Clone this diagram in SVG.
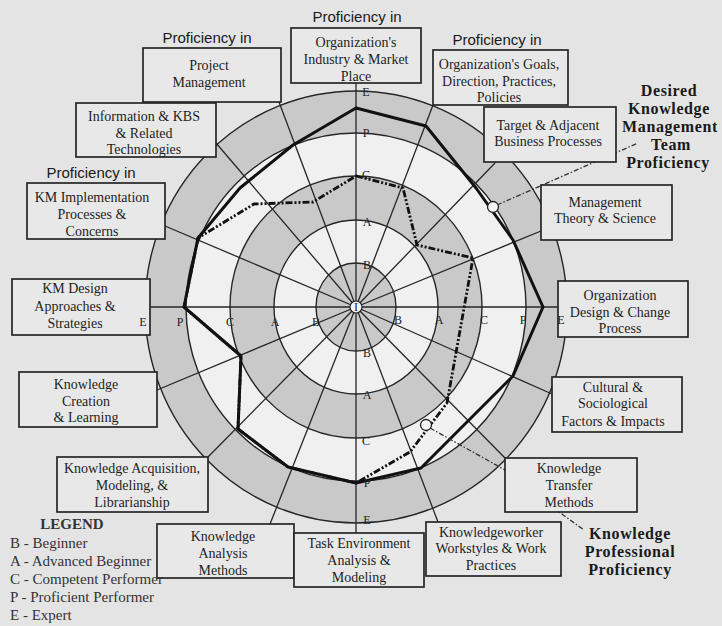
<svg xmlns="http://www.w3.org/2000/svg" width="722" height="626" viewBox="0 0 722 626">
<style>
.bg{fill:#e4e4e4}
.ring{stroke:#262626;stroke-width:1.4}
.g{fill:#c9c9c9}
.w{fill:#f0f0f0}
.spoke{stroke:#262626;stroke-width:1.3;fill:none}
.box{fill:#e8e8e8;stroke:#262626;stroke-width:1.7}
.t{font-family:"Liberation Serif","Times New Roman",serif;font-size:14px;fill:#1e1e1e;text-anchor:middle}
.h{font-family:"Liberation Sans",Arial,sans-serif;font-size:15px;fill:#1a1a1a;text-anchor:middle}
.ax{font-family:"Liberation Serif","Times New Roman",serif;font-size:12px;fill:#222;text-anchor:middle}
.big{font-family:"Liberation Serif","Times New Roman",serif;font-size:16px;letter-spacing:0.6px;font-weight:bold;fill:#1a1a1a;text-anchor:middle}
.leg{font-family:"Liberation Serif","Times New Roman",serif;font-size:15px;fill:#333}
.desired{fill:none;stroke:#111;stroke-width:3;stroke-linejoin:round}
.prof{fill:none;stroke:#111;stroke-width:2.8;stroke-dasharray:7 2 2 2 2 2}
.lead{fill:none;stroke:#333;stroke-width:1.3;stroke-dasharray:5 2 1.5 2}
.mk{fill:#f4f4f4;stroke:#222;stroke-width:1.3}
</style>
<rect class="bg" x="0" y="0" width="722" height="626"/>

<g id="chart">
  <ellipse class="g" cx="356" cy="307" rx="211" ry="216"/>
  <ellipse class="w" cx="356" cy="307" rx="170" ry="174"/>
  <ellipse class="g" cx="356" cy="307" rx="126" ry="131"/>
  <ellipse class="w" cx="356" cy="307" rx="82" ry="87"/>
  <ellipse class="g" cx="356" cy="307" rx="40" ry="44"/>
  <g fill="none" class="ring">
    <ellipse cx="356" cy="307" rx="211" ry="216"/>
    <ellipse cx="356" cy="307" rx="170" ry="174"/>
    <ellipse cx="356" cy="307" rx="126" ry="131"/>
    <ellipse cx="356" cy="307" rx="82" ry="87"/>
    <ellipse cx="356" cy="307" rx="40" ry="44"/>
  </g>
  <g class="spoke">
    <line x1="356" y1="307" x2="558" y2="307"/>
    <line x1="356" y1="307" x2="541" y2="231"/>
    <line x1="356" y1="307" x2="495" y2="163"/>
    <line x1="356" y1="307" x2="433" y2="105"/>
    <line x1="356" y1="307" x2="356" y2="83"/>
    <line x1="356" y1="307" x2="279" y2="102"/>
    <line x1="356" y1="307" x2="216" y2="143"/>
    <line x1="356" y1="307" x2="165" y2="226"/>
    <line x1="356" y1="307" x2="150" y2="307"/>
    <line x1="356" y1="307" x2="157" y2="390"/>
    <line x1="356" y1="307" x2="208" y2="457"/>
    <line x1="356" y1="307" x2="270" y2="524"/>
    <line x1="356" y1="307" x2="356" y2="533"/>
    <line x1="356" y1="307" x2="438" y2="522"/>
    <line x1="356" y1="307" x2="505" y2="458"/>
    <line x1="356" y1="307" x2="552" y2="394"/>
  </g>
  <path class="desired" d="M543,307 L513,240 L476,188 L426,126 L356,108 L293,145 L240,188 L198,238 L184,307 L241,356 L238,429 L288,467 L356,483 L421,468 L513,376 Z"/>
  <path class="prof" d="M356,176 L403,188 L417,245 L473,258 L447,403 L410,452 L356,483 L288,467 L238,429 L241,356 L184,307 L198,238 L254,204 L313,202 Z"/>
  <circle cx="356" cy="307" r="6" fill="#f6f6f6" stroke="#222" stroke-width="1.2"/>
  <text class="ax" x="356" y="311" font-size="10">I</text>
</g>

<g id="connectors">
  <path class="lead" d="M497,205 L638,143"/>
  <path class="lead" d="M430,428 L505,470 L559,512 L584,530"/>
</g>

<g id="n-industry">
  <text class="h" x="357" y="22">Proficiency in</text>
  <rect class="box" x="291" y="28" width="130" height="55"/>
  <text class="t" x="356" y="47">Organization's</text>
  <text class="t" x="356" y="64">Industry &amp; Market</text>
  <text class="t" x="356" y="81">Place</text>
</g>
<g id="n-project">
  <text class="h" x="207" y="43">Proficiency in</text>
  <rect class="box" x="143" y="48" width="138" height="54"/>
  <text class="t" x="209" y="70">Project</text>
  <text class="t" x="209" y="87">Management</text>
</g>
<g id="n-info">
  <rect class="box" x="76" y="103" width="140" height="54"/>
  <text class="t" x="144" y="121">Information &amp; KBS</text>
  <text class="t" x="144" y="138">&amp; Related</text>
  <text class="t" x="144" y="154">Technologies</text>
</g>
<g id="n-kmimpl">
  <text class="h" x="91" y="178">Proficiency in</text>
  <rect class="box" x="27" y="183" width="138" height="56"/>
  <text class="t" x="92" y="202">KM Implementation</text>
  <text class="t" x="92" y="219">Processes &amp;</text>
  <text class="t" x="92" y="236">Concerns</text>
</g>
<g id="n-kmdesign">
  <rect class="box" x="12" y="279" width="138" height="56"/>
  <text class="t" x="75" y="293">KM Design</text>
  <text class="t" x="75" y="311">Approaches &amp;</text>
  <text class="t" x="75" y="328">Strategies</text>
</g>
<g id="n-creation">
  <rect class="box" x="19" y="372" width="138" height="55"/>
  <text class="t" x="86" y="389">Knowledge</text>
  <text class="t" x="86" y="406">Creation</text>
  <text class="t" x="86" y="422">&amp; Learning</text>
</g>
<g id="n-acquisition">
  <rect class="box" x="57" y="457" width="151" height="55"/>
  <text class="t" x="132" y="473">Knowledge Acquisition,</text>
  <text class="t" x="132" y="490">Modeling, &amp;</text>
  <text class="t" x="132" y="507">Librarianship</text>
</g>
<g id="n-analysis">
  <rect class="box" x="157" y="524" width="137" height="54"/>
  <text class="t" x="223" y="541">Knowledge</text>
  <text class="t" x="223" y="558">Analysis</text>
  <text class="t" x="223" y="575">Methods</text>
</g>
<g id="n-task">
  <rect class="box" x="294" y="533" width="130" height="54"/>
  <text class="t" x="359" y="548">Task Environment</text>
  <text class="t" x="359" y="565">Analysis &amp;</text>
  <text class="t" x="359" y="582">Modeling</text>
</g>
<g id="n-worker">
  <rect class="box" x="426" y="522" width="135" height="54"/>
  <text class="t" x="491" y="537">Knowledgeworker</text>
  <text class="t" x="491" y="553">Workstyles &amp; Work</text>
  <text class="t" x="491" y="570">Practices</text>
</g>
<g id="n-transfer">
  <rect class="box" x="505" y="458" width="132" height="54"/>
  <text class="t" x="569" y="473">Knowledge</text>
  <text class="t" x="569" y="490">Transfer</text>
  <text class="t" x="569" y="507">Methods</text>
</g>
<g id="n-cultural">
  <rect class="box" x="552" y="377" width="130" height="55"/>
  <text class="t" x="613" y="392">Cultural &amp;</text>
  <text class="t" x="613" y="408">Sociological</text>
  <text class="t" x="613" y="426">Factors &amp; Impacts</text>
</g>
<g id="n-orgdesign">
  <rect class="box" x="558" y="281" width="130" height="56"/>
  <text class="t" x="620" y="300">Organization</text>
  <text class="t" x="620" y="317">Design &amp; Change</text>
  <text class="t" x="620" y="333">Process</text>
</g>
<g id="n-mgmt">
  <rect class="box" x="541" y="185" width="131" height="55"/>
  <text class="t" x="605" y="207">Management</text>
  <text class="t" x="605" y="223">Theory &amp; Science</text>
</g>
<g id="n-target">
  <rect class="box" x="484" y="107" width="132" height="55"/>
  <text class="t" x="548" y="130">Target &amp; Adjacent</text>
  <text class="t" x="548" y="146">Business Processes</text>
</g>
<g id="n-goals">
  <text class="h" x="497" y="45">Proficiency in</text>
  <rect class="box" x="433" y="50" width="135" height="55"/>
  <text class="t" x="499" y="69">Organization's Goals,</text>
  <text class="t" x="499" y="86">Direction, Practices,</text>
  <text class="t" x="499" y="102">Policies</text>
</g>

<g id="markers">
  <circle class="mk" cx="493" cy="207" r="5.5"/>
  <circle class="mk" cx="426" cy="425" r="5.5"/>
</g>

<g id="axis-labels">
  <text class="ax" x="366" y="96">E</text>
  <text class="ax" x="366" y="137">P</text>
  <text class="ax" x="366" y="179">C</text>
  <text class="ax" x="367" y="226">A</text>
  <text class="ax" x="367" y="269">B</text>
  <text class="ax" x="367" y="357">B</text>
  <text class="ax" x="367" y="399">A</text>
  <text class="ax" x="366" y="445">C</text>
  <text class="ax" x="367" y="487">P</text>
  <text class="ax" x="367" y="524">E</text>
  <text class="ax" x="143" y="326">E</text>
  <text class="ax" x="180" y="326">P</text>
  <text class="ax" x="230" y="326">C</text>
  <text class="ax" x="275" y="326">A</text>
  <text class="ax" x="316" y="326">B</text>
  <text class="ax" x="398" y="324">B</text>
  <text class="ax" x="439" y="324">A</text>
  <text class="ax" x="484" y="324">C</text>
  <text class="ax" x="523" y="324">P</text>
  <text class="ax" x="561" y="324">E</text>
</g>

<g id="desired-label">
  <text class="big" x="669" y="96">Desired</text>
  <text class="big" x="669" y="114">Knowledge</text>
  <text class="big" x="670" y="132">Management</text>
  <text class="big" x="671" y="150">Team</text>
  <text class="big" x="668" y="168">Proficiency</text>
</g>
<g id="professional-label">
  <text class="big" x="630" y="539">Knowledge</text>
  <text class="big" x="630" y="557">Professional</text>
  <text class="big" x="630" y="575">Proficiency</text>
</g>

<g id="legend">
  <text class="leg" x="72" y="529" text-anchor="middle" font-weight="bold" fill="#1a1a1a">LEGEND</text>
  <text class="leg" x="10" y="548">B - Beginner</text>
  <text class="leg" x="10" y="566">A - Advanced Beginner</text>
  <text class="leg" x="10" y="584">C - Competent Performer</text>
  <text class="leg" x="10" y="602" fill="#111">P - Proficient Performer</text>
  <text class="leg" x="10" y="620" fill="#111">E - Expert</text>
</g>
</svg>
